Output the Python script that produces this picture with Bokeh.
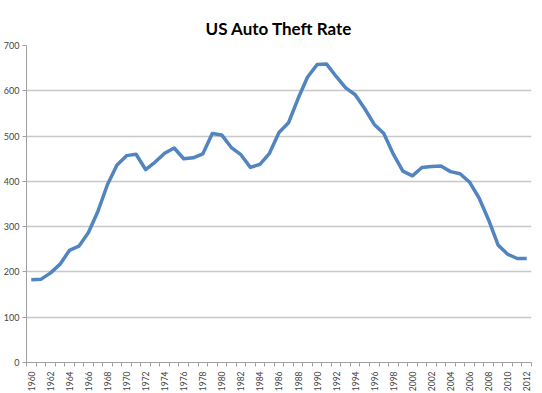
from bokeh.plotting import figure
from bokeh.models import FixedTicker, Range1d
from bokeh.embed import file_html
from bokeh.resources import INLINE

years = list(range(1960, 2013))
theft_rate = [183.0, 183.6, 197.4, 216.6, 247.4, 256.8, 286.9, 334.1, 393.0, 436.2,
              456.8, 459.8, 426.1, 442.6, 462.2, 473.7, 450.0, 451.9, 460.5, 505.6,
              502.2, 474.7, 458.9, 430.8, 437.7, 462.0, 507.8, 529.4, 582.9, 630.4,
              657.8, 659.0, 631.6, 606.3, 591.3, 560.3, 525.7, 505.7, 459.9, 422.5,
              412.2, 430.5, 432.9, 433.7, 421.5, 416.8, 398.4, 363.3, 314.7, 259.2,
              239.1, 229.6, 229.7]
x_tick_labels = list(range(1960, 2013, 2))
y_ticks = [0, 100, 200, 300, 400, 500, 600, 700]

p = figure(width=534, height=394, output_backend="svg", toolbar_location=None,
           title="US Auto Theft Rate",
           x_range=Range1d(1959.5, 2012.5), y_range=Range1d(0, 700),
           min_border_left=26, min_border_right=3, min_border_top=45, min_border_bottom=0)
p.outline_line_color = None
p.background_fill_color = "white"
p.border_fill_color = "white"

p.title.text_font = "Lato"
p.title.text_font_size = "17px"
p.title.text_font_style = "bold"
p.title.text_color = "#000000"
p.title.align = "center"
p.title.offset = -20
p.title.standoff = 14

p.line(years, theft_rate, line_color="#5284bf", line_width=3.5, line_join="round")

xa = p.xaxis[0]
xa.ticker = FixedTicker(ticks=x_tick_labels,
                        minor_ticks=[y - 0.5 for y in years] + [2012.5])
xa.major_label_orientation = 3.14159 / 2
xa.major_tick_line_color = None
xa.major_tick_out = 0
xa.major_tick_in = 0
xa.minor_tick_line_color = "#a0a0a0"
xa.minor_tick_out = 4
xa.minor_tick_in = 0
xa.axis_line_color = "#a0a0a0"
xa.major_label_text_font = "Lato"
xa.major_label_text_font_size = "8.5px"
xa.major_label_text_color = "#444444"
xa.major_label_standoff = 5
xa.axis_label_standoff = 0

ya = p.yaxis[0]
ya.ticker = FixedTicker(ticks=y_ticks)
ya.minor_tick_line_color = None
ya.major_tick_line_color = "#a0a0a0"
ya.major_tick_out = 4
ya.major_tick_in = 0
ya.axis_line_color = "#a0a0a0"
ya.major_label_text_font = "Lato"
ya.major_label_text_font_size = "9px"
ya.major_label_text_color = "#444444"
ya.major_label_standoff = 3

p.xgrid.grid_line_color = None
p.ygrid.grid_line_color = "#c8c8c8"
p.ygrid.grid_line_width = 1.5

open("out.html", "w").write(file_html(p, INLINE))
